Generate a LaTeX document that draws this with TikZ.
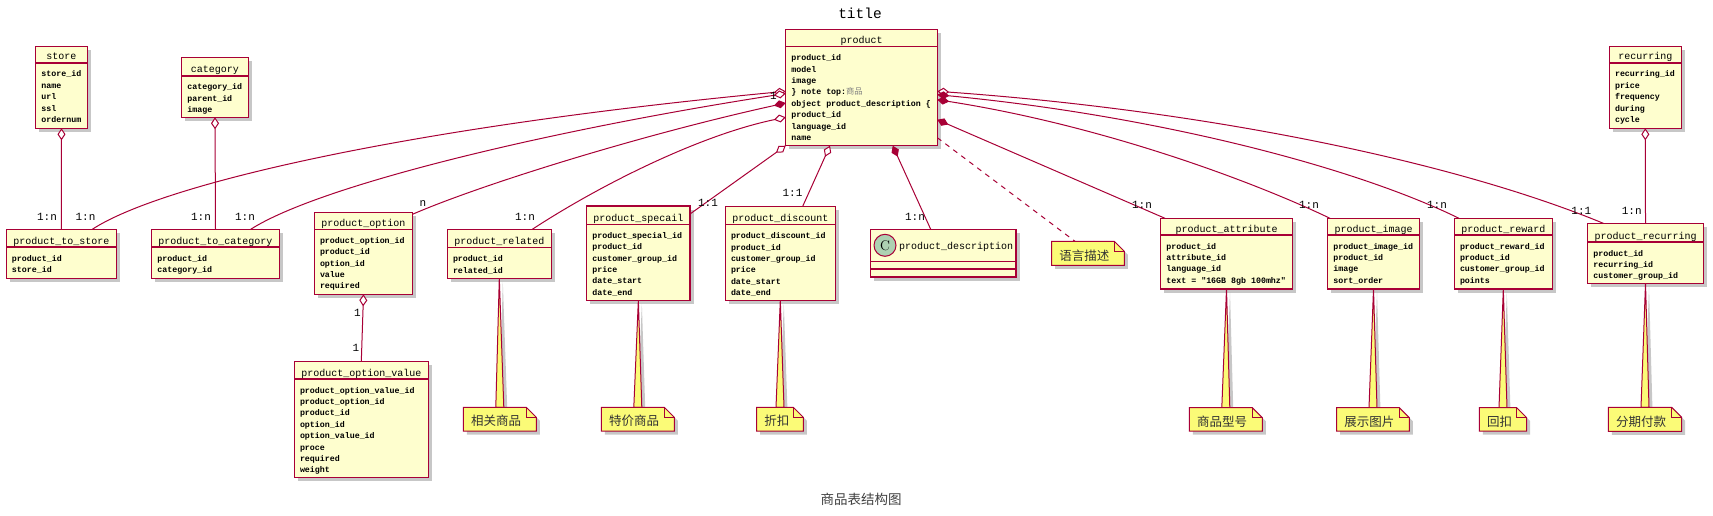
\documentclass[tikz,border=0pt]{standalone}
\usepackage{fontspec}
\setmonofont{Liberation Mono}
\newfontfamily\cjk{Noto Sans CJK SC}
\usetikzlibrary{arrows.meta,shadows,calc}
\definecolor{umlred}{HTML}{A80036}
\definecolor{umlfill}{HTML}{FEFECE}
\definecolor{notefill}{HTML}{FBFB77}
\definecolor{cgreen}{HTML}{ADD1B2}
\tikzset{
 cbox/.style={draw=umlred, fill=umlfill, line width=1.5pt, inner sep=0pt, outer sep=0pt,
   drop shadow={shadow xshift=3.5pt, shadow yshift=-3.5pt, fill=black, opacity=0.22}},
 sepline/.style={draw=umlred, line width=1.5pt},
 ctitle/.style={font=\ttfamily\fontsize{10}{12}\selectfont, inner sep=0pt},
 cattr/.style={font=\ttfamily\bfseries\fontsize{8.3}{10}\selectfont, inner sep=0pt},
 conn/.style={draw=umlred, line width=1pt},
 hdia/.style={conn, -{Diamond[length=12pt, width=8pt, fill=white]}},
 fdia/.style={conn, -{Diamond[length=12pt, width=8pt]}},
 mult/.style={font=\ttfamily\fontsize{11}{12}\selectfont, inner sep=0pt},
 notebody/.style={draw=umlred, fill=notefill, line width=1pt,
   drop shadow={shadow xshift=3.5pt, shadow yshift=-3.5pt, fill=black, opacity=0.22}},
 noteline/.style={draw=umlred, line width=1pt},
 notetext/.style={font=\cjk\fontsize{12.5}{14}\selectfont, text=black!80, inner sep=0pt},
}
% #1 name #2 x #3 y #4 w #5 h #6 title height #7 title #8 attributes
\newcommand\umlclass[8]{%
 \node[cbox, anchor=north west, minimum width=#4pt, minimum height=#5pt] (#1) at (#2,#3) {};
 \draw[sepline] ([yshift=-#6pt]#1.north west) -- ([yshift=-#6pt]#1.north east);
 \node[ctitle, anchor=base] at ([yshift=-#6pt+3pt]#1.north) {#7};
 \foreach \atext [count=\i from 0] in {#8}
   \node[cattr, anchor=base west] at ([xshift=5.5pt, yshift=-#6pt-14pt-\i*11.4pt]#1.north west) {\atext};
}
\newcommand\notenode[5]{%
 \node[inner sep=0pt, outer sep=0pt, minimum width=#4pt, minimum height=#5pt, anchor=north west] (#1) at (#2,#3) {};}
\newcommand\notelink[2]{%
 \path[notebody] (#1.south) -- ([xshift=-4pt]#2.north) -- ([xshift=4pt]#2.north) -- cycle;}
\newcommand\notebody[2]{%
 \path[notebody] (#1.south west) -- (#1.north west) -- ([xshift=-10pt]#1.north east) -- ([yshift=-10pt]#1.north east) -- (#1.south east) -- cycle;
 \draw[noteline] ([xshift=-10pt]#1.north east) -- ([xshift=-10pt,yshift=-10pt]#1.north east) -- ([yshift=-10pt]#1.north east);
 \node[notetext, anchor=west] at ([xshift=7.5pt,yshift=-2pt]#1.west) {#2};}
\begin{document}
\begin{tikzpicture}[x=1pt, y=-1pt]
\fill[white] (0,0) rectangle (1713,516);
\useasboundingbox (0,0) rectangle (1713,516);

\node[font=\ttfamily\fontsize{14.5}{16}\selectfont, inner sep=0pt] (title) at (860,13.8) {title};
\node[font=\cjk\fontsize{13.5}{15}\selectfont, text=black!75, inner sep=0pt] (caption) at (861,499.3) {商品表结构图};

% classes
\umlclass{store}{35.7}{46.3}{51.6}{82}{16.7}{store}{store\_id,name,url,ssl,ordernum}
\umlclass{category}{181.7}{57.3}{66.6}{60}{18.7}{category}{category\_id,parent\_id,image}
\umlclass{pts}{6.3}{229.3}{110}{49}{17.7}{product\_to\_store}{product\_id,store\_id}
\umlclass{ptc}{151.7}{229.3}{127.6}{49}{17.7}{product\_to\_category}{product\_id,category\_id}
\umlclass{product}{785.7}{29.3}{151.6}{116.4}{17.4}{product}{product\_id,model,image,{\} note top:{\cjk\mdseries\color{gray}商品}},object product\_description \{,product\_id,language\_id,name}
\umlclass{popt}{314.3}{212.7}{98.4}{81.6}{16.6}{product\_option}{product\_option\_id,product\_id,option\_id,value,required}
\umlclass{popv}{294.3}{361.7}{134}{115.6}{17.3}{product\_option\_value}{product\_option\_value\_id,product\_option\_id,product\_id,option\_id,option\_value\_id,proce,required,weight}
\umlclass{prel}{447.3}{229.3}{104}{49}{18.4}{product\_related}{product\_id,related\_id}
\umlclass{pspec}{586.7}{206}{103.3}{94.3}{18.3}{product\_specail}{product\_special\_id,product\_id,customer\_group\_id,price,date\_start,date\_end}
\umlclass{pdisc}{725.3}{206.3}{110}{94}{18.4}{product\_discount}{product\_discount\_id,product\_id,customer\_group\_id,price,date\_start,date\_end}
\umlclass{pattr}{1160.7}{218.3}{131.6}{70.7}{16.7}{product\_attribute}{product\_id,attribute\_id,language\_id,text = "16GB 8gb 100mhz"}
\umlclass{pimg}{1327.7}{218.3}{91.6}{70.7}{16.7}{product\_image}{product\_image\_id,product\_id,image,sort\_order}
\umlclass{prew}{1454.3}{218.3}{98}{70.7}{16.7}{product\_reward}{product\_reward\_id,product\_id,customer\_group\_id,points}
\umlclass{recurring}{1609.3}{46.3}{72}{82}{16.7}{recurring}{recurring\_id,price,frequency,during,cycle}
\umlclass{prec}{1587.7}{223.3}{115.6}{60}{18.7}{product\_recurring}{product\_id,recurring\_id,customer\_group\_id}

% product_description class
\node[cbox, anchor=north west, minimum width=145.7pt, minimum height=47.7pt] (pdesc) at (870.3,229.3) {};
\draw[sepline] ([yshift=-32.4pt]pdesc.north west) -- ([yshift=-32.4pt]pdesc.north east);
\draw[sepline] ([yshift=-39.7pt]pdesc.north west) -- ([yshift=-39.7pt]pdesc.north east);
\node[circle, draw=umlred, fill=cgreen, line width=1pt, minimum size=22pt, inner sep=0pt,
  font=\fontsize{14}{14}\selectfont] (cicon) at (885,245.3) {C};
\node[ctitle, anchor=base west] (pdesctitle) at (899,249) {product\_description};

% connectors left of product
\draw[hdia] ($(pts.north west)+(86,0)$) .. controls (160,185) and (400,128) .. ($(product.north west)+(0,62)$);
\draw[hdia] ($(ptc.north west)+(99,0)$) .. controls (320,185) and (550,130) .. ($(product.north west)+(0,64.2)$);
\draw[fdia] ($(popt.north east)+(0,1.5)$) .. controls (480,185) and (640,135) .. ($(product.north west)+(0,73.7)$);
\draw[hdia] ($(prel.north west)+(85,0)$) .. controls (600,185) and (700,135) .. ($(product.north west)+(0,88)$);
\draw[hdia] ($(pspec.north east)+(0,8)$) -- (product.south west);
\draw[hdia] ($(pdisc.north west)+(77.4,0)$) -- ($(product.south west)+(44.3,0)$);
\draw[fdia] ($(pdesc.north west)+(60.4,0)$) -- ($(product.south west)+(107,0)$);
% right of product
\draw[hdia] ($(prec.north west)+(15.6,0)$) .. controls (1450,160) and (1200,110) .. ($(product.north east)+(0,62)$);
\draw[fdia] ($(prew.north west)+(4.7,0)$) .. controls (1350,165) and (1150,115) .. ($(product.north east)+(0,65.4)$);
\draw[fdia] ($(pimg.north west)+(2.3,0)$) .. controls (1250,180) and (1100,125) .. ($(product.north east)+(0,70.4)$);
\draw[fdia] ($(pattr.north west)+(4.3,0)$) -- ($(product.north east)+(0,90.4)$);
% vertical ones
\draw[hdia] (pts.north) -- (store.south);
\draw[hdia] (ptc.north) -- (category.south);
\draw[hdia] (popv.north) -- (popt.south);
\draw[hdia] (prec.north) -- (recurring.south);

% notes
\notenode{nrel}{463.3}{407.3}{73}{23.7}
\notelink{prel}{nrel}
\notebody{nrel}{相关商品}
\notenode{nspec}{601.3}{407.3}{73}{23.7}
\notelink{pspec}{nspec}
\notebody{nspec}{特价商品}
\notenode{ndisc}{756.7}{407.3}{46.6}{23.7}
\notelink{pdisc}{ndisc}
\notebody{ndisc}{折扣}
\notenode{nattr}{1189.3}{407.7}{73}{23.3}
\notelink{pattr}{nattr}
\notebody{nattr}{商品型号}
\notenode{nimg}{1336.7}{407.7}{72.6}{23.3}
\notelink{pimg}{nimg}
\notebody{nimg}{展示图片}
\notenode{nrew}{1479.3}{407.7}{47.4}{23.3}
\notelink{prew}{nrew}
\notebody{nrew}{回扣}
\notenode{nrec}{1608.3}{407.3}{73.4}{24}
\notelink{prec}{nrec}
\notebody{nrec}{分期付款}
\notenode{nlang}{1051.7}{241.3}{72.6}{24}
\draw[conn, dash pattern=on 5pt off 5pt] ($(product.south east)+(0,-8)$) -- ($(nlang.north west)+(23.3,0)$);
\notebody{nlang}{语言描述}

% multiplicities
\node[mult] (m1) at (47,217) {1:n};
\node[mult] (m2) at (85.5,217) {1:n};
\node[mult] (m3) at (201,217) {1:n};
\node[mult] (m4) at (245,217) {1:n};
\node[mult] (m5) at (423,204) {n};
\node[mult] (m6) at (357.3,313.3) {1};
\node[mult] (m7) at (356,347.7) {1};
\node[mult] (m8) at (525,216.7) {1:n};
\node[mult] (m9) at (708,203) {1:1};
\node[mult] (m10) at (792.5,192.7) {1:1};
\node[mult] (m11) at (915,217.3) {1:n};
\node[mult] (m12) at (1142,205) {1:n};
\node[mult] (m13) at (1309,205) {1:n};
\node[mult] (m14) at (1437,205) {1:n};
\node[mult] (m15) at (1581.3,210.7) {1:1};
\node[mult] (m16) at (1631.7,210.7) {1:n};
\node[mult] (m17) at (773.3,96) {1};
\end{tikzpicture}
\end{document}
